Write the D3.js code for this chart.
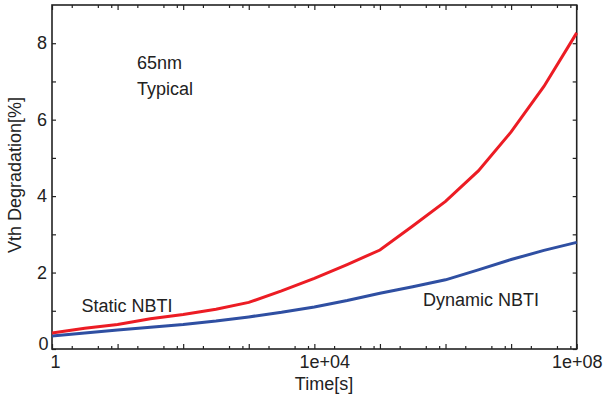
<!DOCTYPE html>
<html>
<head>
<meta charset="utf-8">
<script src="https://cdn.jsdelivr.net/npm/d3@7"></script>
<style>
  html, body { margin: 0; padding: 0; background: #fff; }
  svg { display: block; }
  text { font-family: "Liberation Sans", Arial, Helvetica, sans-serif; fill: #222; }
</style>
</head>
<body>
<svg id="chart" width="604" height="403"></svg>
<script>
// Stress time samples (s), half-decade steps from 1 s to 1e8 s
const timeExp = [0, 0.5, 1, 1.5, 2, 2.5, 3, 3.5, 4, 4.5, 5, 5.5, 6, 6.5, 7, 7.5, 8];
// Threshold-voltage degradation (%)
const staticNBTI  = [0.42, 0.54, 0.64, 0.79, 0.90, 1.04, 1.22, 1.52, 1.85, 2.21, 2.59, 3.22, 3.86, 4.66, 5.68, 6.87, 8.27];
const dynamicNBTI = [0.34, 0.42, 0.50, 0.57, 0.64, 0.73, 0.84, 0.96, 1.10, 1.27, 1.46, 1.63, 1.81, 2.07, 2.34, 2.58, 2.79];

const xMajorTicks = [1, 1e1, 1e2, 1e3, 1e4, 1e5, 1e6, 1e7, 1e8];
const xTickLabels = { 1: "1", 10000: "1e+04", 100000000: "1e+08" };
const xLabelShift = { 1: 3, 10000: 10, 100000000: 0 };
const xMinorMult = [2, 5, 8];
const yTicks = [0, 1, 2, 3, 4, 5, 6, 7, 8];
const yTickLabels = ["0", "", "2", "", "4", "", "6", "", "8"];

const seriesColors = { static: "#ec1c24", dynamic: "#2f4fa2" };

const svg = d3.select("#chart");
const plotLeft = 52, plotRight = 576.7, plotTop = 5, plotBottom = 349;

const x = d3.scaleLog().domain([1, 1e8]).range([plotLeft, plotRight]);
const y = d3.scaleLinear().domain([0, 9]).range([plotBottom, plotTop]);

const xMinorTicks = [];
xMajorTicks.slice(0, -1).forEach(d => xMinorMult.forEach(m => xMinorTicks.push(d * m)));

const axisColor = "#222";

function styleAxis(g) {
  g.select(".domain").remove();
  g.selectAll(".tick line").attr("stroke", axisColor).attr("stroke-width", 1.2);
  g.selectAll(".tick text").style("font-size", "18px").attr("fill", "#222");
}

// bottom axis: major ticks with labels, minor ticks
svg.append("g").attr("transform", `translate(0,${plotBottom})`)
  .call(d3.axisBottom(x).tickValues(xMajorTicks).tickSize(-5).tickPadding(6)
    .tickFormat(d => xTickLabels[d] || ""))
  .call(styleAxis)
  .call(g => g.selectAll(".tick text").attr("dx", d => xLabelShift[d] || 0));
svg.append("g").attr("transform", `translate(0,${plotBottom})`)
  .call(d3.axisBottom(x).tickValues(xMinorTicks).tickSize(-3).tickFormat(""))
  .call(styleAxis);

// top axis (mirror)
svg.append("g").attr("transform", `translate(0,${plotTop})`)
  .call(d3.axisTop(x).tickValues(xMajorTicks).tickSize(-5).tickFormat(""))
  .call(styleAxis);
svg.append("g").attr("transform", `translate(0,${plotTop})`)
  .call(d3.axisTop(x).tickValues(xMinorTicks).tickSize(-3).tickFormat(""))
  .call(styleAxis);

// left axis; the zero label is lifted clear of the time labels
svg.append("g").attr("transform", `translate(${plotLeft},0)`)
  .call(d3.axisLeft(y).tickValues(yTicks).tickSize(-4).tickPadding(5)
    .tickFormat((d, i) => yTickLabels[i]))
  .call(styleAxis)
  .call(g => g.selectAll(".tick text").filter(d => d === 0)
    .attr("dy", "0.0em").attr("x", -3.5));

// right axis (mirror)
svg.append("g").attr("transform", `translate(${plotRight},0)`)
  .call(d3.axisRight(y).tickValues(yTicks).tickSize(-4).tickFormat(""))
  .call(styleAxis);

// frame
svg.append("rect")
  .attr("x", plotLeft).attr("y", plotTop)
  .attr("width", plotRight - plotLeft).attr("height", plotBottom - plotTop)
  .attr("fill", "none").attr("stroke", axisColor).attr("stroke-width", 1.6);

// curves
const line = d3.line()
  .x((d, i) => x(Math.pow(10, timeExp[i])))
  .y(d => y(d));

svg.append("path").datum(dynamicNBTI)
  .attr("d", line).attr("fill", "none")
  .attr("stroke", seriesColors.dynamic).attr("stroke-width", 3);
svg.append("path").datum(staticNBTI)
  .attr("d", line).attr("fill", "none")
  .attr("stroke", seriesColors.static).attr("stroke-width", 3);

// annotations
const ann = [
  { t: "65nm", x: 137, y: 69 },
  { t: "Typical", x: 137, y: 95 },
  { t: "Static NBTI", x: 81.5, y: 312 },
  { t: "Dynamic NBTI", x: 423, y: 306 }
];
svg.selectAll("text.ann").data(ann).enter().append("text")
  .attr("class", "ann")
  .attr("x", d => d.x).attr("y", d => d.y)
  .style("font-size", "18px")
  .text(d => d.t);

// axis titles
svg.append("text")
  .attr("x", 324).attr("y", 390)
  .attr("text-anchor", "middle")
  .style("font-size", "18px")
  .text("Time[s]");

svg.append("text")
  .attr("transform", "translate(21,175) rotate(-90)")
  .attr("text-anchor", "middle")
  .style("font-size", "18px")
  .text("Vth Degradation[%]");
</script>
</body>
</html>
